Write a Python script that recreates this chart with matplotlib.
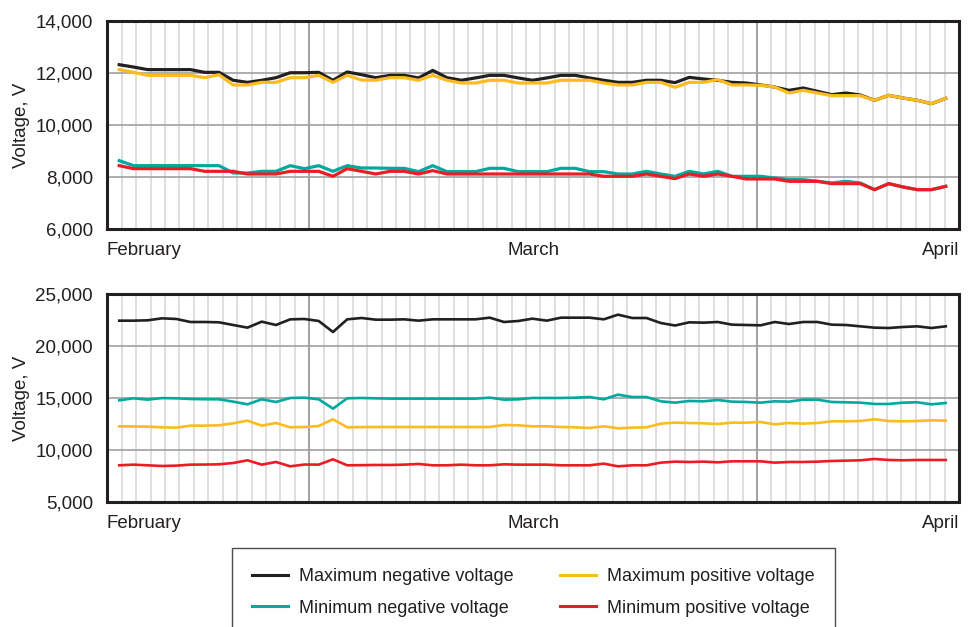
import numpy as np
import matplotlib
matplotlib.use("Agg")
import matplotlib.pyplot as plt
from matplotlib.lines import Line2D

# narrow sans if one is there, otherwise the Arial-like one
plt.rcParams['font.family'] = ['Liberation Sans Narrow', 'Liberation Sans', 'DejaVu Sans']
plt.rcParams['font.stretch'] = 'condensed'

# daily readings, Feb 1 .. Mar 31
days = np.arange(59)

# top chart
top_max_neg = [12320, 12230, 12130, 12130, 12130, 12130, 12025, 12025, 11720, 11640,
               11720, 11820, 12010, 12010, 12025, 11720, 12040, 11935, 11820, 11910,
               11910, 11810, 12100, 11820, 11720, 11810, 11910, 11910, 11810, 11720,
               11810, 11910, 11910, 11810, 11720, 11640, 11640, 11720, 11720, 11630,
               11833, 11770, 11718, 11640, 11615, 11540, 11460, 11333, 11423, 11295,
               11167, 11230, 11154, 10950, 11140, 11038, 10950, 10820, 11026]
top_max_pos = [12130, 12025, 11910, 11910, 11910, 11910, 11820, 11935, 11540, 11540,
               11640, 11640, 11820, 11820, 11910, 11640, 11910, 11730, 11720, 11820,
               11820, 11720, 11910, 11720, 11615, 11615, 11720, 11720, 11615, 11615,
               11615, 11720, 11720, 11720, 11615, 11540, 11540, 11640, 11640, 11450,
               11640, 11640, 11744, 11540, 11540, 11525, 11460, 11230, 11333, 11230,
               11128, 11128, 11128, 10950, 11140, 11038, 10950, 10820, 11026]
top_min_neg = [8628, 8436, 8436, 8436, 8436, 8436, 8436, 8436, 8154, 8154,
               8218, 8218, 8436, 8320, 8436, 8218, 8436, 8346, 8346, 8333,
               8333, 8205, 8436, 8205, 8205, 8205, 8333, 8333, 8205, 8205,
               8205, 8333, 8333, 8205, 8205, 8115, 8115, 8218, 8115, 8026,
               8218, 8115, 8218, 8026, 8026, 8026, 7962, 7898, 7898, 7833,
               7770, 7833, 7770, 7513, 7744, 7616, 7513, 7513, 7641]
top_min_pos = [8436, 8320, 8320, 8320, 8320, 8320, 8218, 8218, 8218, 8115,
               8115, 8115, 8218, 8218, 8218, 8026, 8320, 8218, 8115, 8218,
               8218, 8115, 8244, 8115, 8115, 8115, 8115, 8115, 8115, 8115,
               8115, 8115, 8115, 8115, 8026, 8026, 8026, 8115, 8026, 7936,
               8115, 8026, 8115, 8026, 7923, 7923, 7923, 7833, 7833, 7833,
               7744, 7744, 7744, 7513, 7744, 7616, 7513, 7513, 7641]

# bottom chart
bot_max_neg = [22436, 22436, 22468, 22660, 22600, 22308, 22308, 22276, 22020, 21763,
               22340, 22020, 22564, 22596, 22404, 21346, 22564, 22692, 22532, 22532,
               22564, 22436, 22564, 22564, 22564, 22564, 22724, 22308, 22404, 22628,
               22436, 22724, 22724, 22724, 22564, 23013, 22692, 22692, 22212, 21970,
               22276, 22244, 22308, 22051, 22020, 21987, 22308, 22115, 22308, 22308,
               22051, 22020, 21891, 21763, 21730, 21827, 21891, 21730, 21891]
bot_min_neg = [14776, 14968, 14840, 14990, 14968, 14904, 14880, 14872, 14648, 14391,
               14872, 14616, 15000, 15032, 14872, 13975, 14968, 15000, 14968, 14940,
               14936, 14936, 14936, 14936, 14936, 14936, 15032, 14840, 14872, 15000,
               15000, 15000, 15032, 15096, 14872, 15321, 15096, 15096, 14680, 14552,
               14712, 14680, 14808, 14648, 14616, 14552, 14680, 14648, 14840, 14840,
               14616, 14584, 14552, 14424, 14424, 14552, 14584, 14391, 14520]
bot_max_pos = [12276, 12260, 12244, 12180, 12148, 12340, 12340, 12372, 12564, 12821,
               12340, 12596, 12180, 12212, 12308, 12949, 12180, 12200, 12212, 12212,
               12212, 12212, 12212, 12212, 12212, 12212, 12212, 12404, 12372, 12276,
               12276, 12212, 12180, 12116, 12276, 12084, 12148, 12180, 12532, 12628,
               12596, 12564, 12500, 12628, 12628, 12692, 12468, 12596, 12532, 12596,
               12756, 12756, 12788, 12949, 12788, 12756, 12788, 12853, 12821]
bot_min_pos = [8526, 8590, 8526, 8462, 8494, 8590, 8600, 8622, 8750, 9007,
               8590, 8846, 8430, 8600, 8590, 9103, 8526, 8540, 8558, 8558,
               8590, 8654, 8526, 8526, 8590, 8526, 8526, 8622, 8590, 8590,
               8590, 8526, 8526, 8526, 8686, 8430, 8526, 8526, 8782, 8878,
               8846, 8878, 8814, 8910, 8910, 8910, 8782, 8846, 8846, 8878,
               8942, 8974, 9007, 9135, 9039, 9007, 9039, 9039, 9039]

top_ticks = [6000, 8000, 10000, 12000, 14000]
bot_ticks = [5000, 10000, 15000, 20000, 25000]
months = ['February', 'March', 'April']
labels = ['Maximum negative voltage', 'Minimum negative voltage',
          'Maximum positive voltage', 'Minimum positive voltage']

c_black = '#231f20'
c_yellow = '#fdbb22'
c_teal = '#00a99d'
c_red = '#ed1c24'
ink = '#231f20'

fig = plt.figure(figsize=(9.75, 6.27), dpi=100)
ax_top = fig.add_axes([0.1097, 0.6348, 0.8742, 0.3317])
ax_bot = fig.add_axes([0.1097, 0.1994, 0.8742, 0.3317])

# vertical grid: 58 light lines, two of them darker
grid_x = np.linspace(0.17, 57.93, 58)


def style_axes(ax, ticks):
    ax.set_xlim(-0.86, 58.95)
    ax.set_ylim(ticks[0], ticks[-1])
    for k, gx in enumerate(grid_x):
        if k in (13, 44):
            ax.axvline(gx, color='#9a9a9a', lw=1.3, zorder=1)
        else:
            ax.axvline(gx, color='#d6d6d6', lw=1.1, zorder=1)
    for t in ticks[1:-1]:
        ax.axhline(t, color='#a0a0a0', lw=1.2, zorder=1)
    ax.set_xticks([])
    ax.set_yticks(ticks)
    ax.set_yticklabels(['{:,}'.format(t) for t in ticks])
    ax.tick_params(axis='y', length=0, pad=10, labelsize=13.5, colors=ink)
    for s in ax.spines.values():
        s.set_color(ink)
        s.set_linewidth(2.2)
        s.set_zorder(5)
    ax.set_ylabel('Voltage, V', fontsize=13.5, color=ink)
    ax.yaxis.set_label_coords(-0.09, 0.5)
    ax.text(0, -0.062, months[0], transform=ax.transAxes, ha='left', va='top',
            fontsize=13.5, color=ink)
    ax.text(0.5, -0.062, months[1], transform=ax.transAxes, ha='center', va='top',
            fontsize=13.5, color=ink)
    ax.text(1, -0.062, months[2], transform=ax.transAxes, ha='right', va='top',
            fontsize=13.5, color=ink)


style_axes(ax_top, top_ticks)
style_axes(ax_bot, bot_ticks)

# top chart lines
ax_top.plot(days, top_max_neg, color=c_black, lw=2.3, zorder=3)
ax_top.plot(days, top_max_pos, color=c_yellow, lw=2.3, zorder=3)
ax_top.plot(days, top_min_neg, color=c_teal, lw=2.3, zorder=3)
ax_top.plot(days, top_min_pos, color=c_red, lw=2.3, zorder=3)

# bottom chart lines
ax_bot.plot(days, bot_max_neg, color=c_black, lw=1.9, zorder=3)
ax_bot.plot(days, bot_min_neg, color=c_teal, lw=1.9, zorder=3)
ax_bot.plot(days, bot_max_pos, color=c_yellow, lw=1.9, zorder=3)
ax_bot.plot(days, bot_min_pos, color=c_red, lw=1.9, zorder=3)

# legend below both charts
handles = [Line2D([], [], color=c, lw=2.2) for c in (c_black, c_teal, c_yellow, c_red)]
leg = fig.legend(handles, labels, ncol=2, loc='upper left',
                 bbox_to_anchor=(232 / 975, 1 - 548 / 627),
                 fontsize=13, frameon=True, fancybox=False,
                 handlelength=2.0, handletextpad=0.6, columnspacing=2.6,
                 labelspacing=0.82, borderpad=1.1, borderaxespad=0)
leg.get_frame().set_edgecolor(ink)
leg.get_frame().set_linewidth(1.0)
for t in leg.get_texts():
    t.set_color(ink)

fig.savefig('out.png', dpi=100)
